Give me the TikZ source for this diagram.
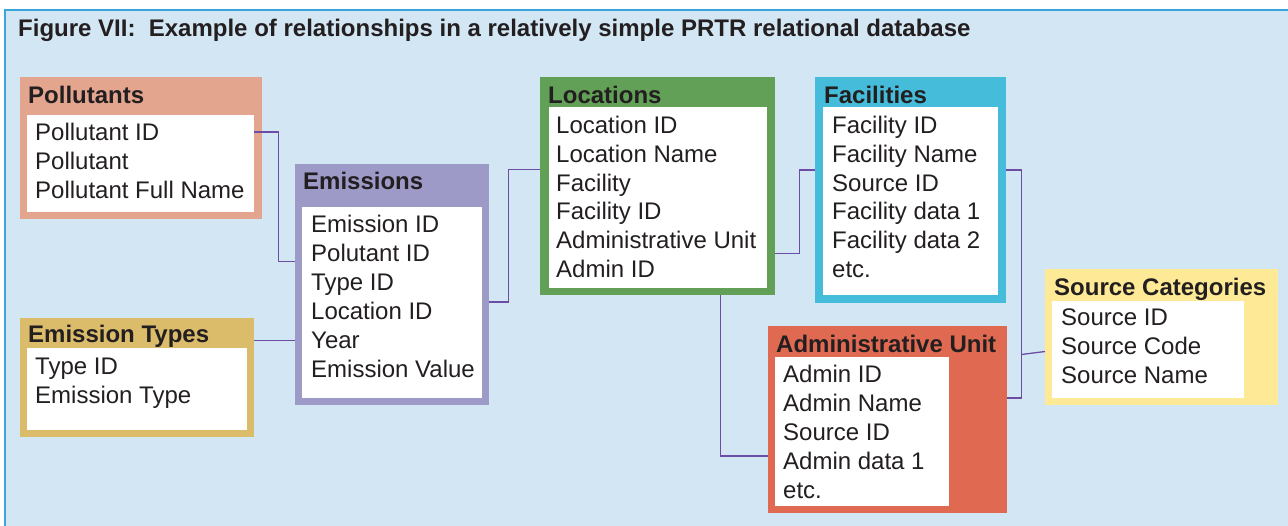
\documentclass[tikz,border=0pt]{standalone}
\usepackage{fontspec}
\setmainfont{Liberation Sans}
\usetikzlibrary{positioning}

\definecolor{panel}{HTML}{D3E6F4}
\definecolor{frame}{HTML}{3AA5DA}
\definecolor{ink}{HTML}{231F20}
\definecolor{linkc}{HTML}{6D4CA6}
\definecolor{pollc}{HTML}{E3A58E}
\definecolor{emisc}{HTML}{9E9AC8}
\definecolor{etypc}{HTML}{DABC6B}
\definecolor{locc}{HTML}{62A057}
\definecolor{facc}{HTML}{45BCD9}
\definecolor{srcc}{HTML}{FEEA96}
\definecolor{admc}{HTML}{DF6A51}

\begin{document}
\begin{tikzpicture}[x=1pt, y=-1pt,
        tbl/.style={inner sep=0pt, anchor=north west},
        card/.style={fill=white, inner sep=0pt, anchor=north west},
        head/.style={inner sep=0pt, anchor=base west, text=ink, font=\bfseries\fontsize{24}{29}\selectfont},
        field/.style={inner sep=0pt, anchor=base west, text=ink, font=\fontsize{24}{29}\selectfont},
        link/.style={draw=linkc, line width=1.3pt}]
      \useasboundingbox (0,0) rectangle (1288,526);
      \fill[white] (0,0) rectangle (1288,526);
      \filldraw[fill=panel, draw=frame, line width=1.5pt] (5,10) rectangle (1300,540);
      \node[anchor=base west, inner sep=0pt, text=ink, font=\bfseries\fontsize{24}{28}\selectfont] (title) at (18,37)
        {Figure VII:\ \ Example of relationships in a relatively simple PRTR relational database};

      % Pollutants
      \node[tbl, fill=pollc, minimum width=242pt, minimum height=142pt] (poll) at (20,77) {};
      \node[card, minimum width=227pt, minimum height=97pt] (pollw) at (27,115) {};
      \node[head] (pollh) at (28,103.5) {Pollutants};
      \foreach \f [count=\i] in {Pollutant ID, Pollutant, Pollutant Full Name}
        \node[field] (poll-\i) at (35,{140.5+29*(\i-1)}) {\f};

      % Emission Types
      \node[tbl, fill=etypc, minimum width=234pt, minimum height=119pt] (etyp) at (20,318) {};
      \node[card, minimum width=220pt, minimum height=82pt] (etypw) at (27,348) {};
      \node[head] (etyph) at (28,342.5) {Emission Types};
      \foreach \f [count=\i] in {Type ID, Emission Type}
        \node[field] (etyp-\i) at (35,{374.5+29*(\i-1)}) {\f};

      % Emissions
      \node[tbl, fill=emisc, minimum width=194pt, minimum height=241pt] (emis) at (295,164) {};
      \node[card, minimum width=180pt, minimum height=191pt] (emisw) at (302,207) {};
      \node[head] (emish) at (303,189.5) {Emissions};
      \foreach \f [count=\i] in {Emission ID, Polutant ID, Type ID, Location ID, Year, Emission Value}
        \node[field] (emis-\i) at (311,{232.5+29*(\i-1)}) {\f};

      % Locations
      \node[tbl, fill=locc, minimum width=235pt, minimum height=218pt] (loc) at (540,77) {};
      \node[card, minimum width=218pt, minimum height=181pt] (locw) at (549,107) {};
      \node[head] (loch) at (548,103.5) {Locations};
      \foreach \f [count=\i] in {Location ID, Location Name, Facility, Facility ID, Administrative Unit, Admin ID}
        \node[field] (loc-\i) at (556,{133.5+28.8*(\i-1)}) {\f};

      % Facilities
      \node[tbl, fill=facc, minimum width=191pt, minimum height=226pt] (fac) at (815,77) {};
      \node[card, minimum width=175pt, minimum height=188pt] (facw) at (823,107) {};
      \node[head] (fach) at (824,103.5) {Facilities};
      \foreach \f [count=\i] in {Facility ID, Facility Name, Source ID, Facility data 1, Facility data 2, etc.}
        \node[field] (fac-\i) at (832,{133.5+28.8*(\i-1)}) {\f};

      % Source Categories
      \node[tbl, fill=srcc, minimum width=233pt, minimum height=136pt] (src) at (1045,269) {};
      \node[card, minimum width=192pt, minimum height=97pt] (srcw) at (1052,301) {};
      \node[head] (srch) at (1054,295.5) {Source Categories};
      \foreach \f [count=\i] in {Source ID, Source Code, Source Name}
        \node[field] (src-\i) at (1061,{325.5+29*(\i-1)}) {\f};

      % Administrative Unit
      \node[tbl, fill=admc, minimum width=239pt, minimum height=187pt] (adm) at (768,326) {};
      \node[card, minimum width=174pt, minimum height=149pt] (admw) at (775,357) {};
      \node[head] (admh) at (776,352.5) {Administrative Unit};
      \foreach \f [count=\i] in {Admin ID, Admin Name, Source ID, Admin data 1, etc.}
        \node[field] (adm-\i) at (783,{382.5+29*(\i-1)}) {\f};

      % relations
      \draw[link] (pollw.east |- poll-1) -- ++(24,0) |- (emis.west |- emis-2.base);
      \draw[link] (etyp.east |- emis-5) -- (emis.west |- emis-5);
      \draw[link] (emis.east |- emis-4.north) -- ++(19,0) |- ([yshift=4pt]loc.west |- loc-3.north);
      \draw[link] ([yshift=-5pt]loc.east |- loc-5.base) -- ++(24,0) |- ([yshift=4pt]fac.west |- fac-3.north);
      \draw[link] ([xshift=62.5pt]loc.south) |- ([yshift=5pt]adm.west |- adm-4);
      \draw[link] ([yshift=4pt]fac.east |- fac-3.north) -- ++(15,0) coordinate (bus) |- ([yshift=5pt]adm.east |- adm-2);
      \draw[link] (bus |- src-2.base) -- ([yshift=3pt]src.west |- src-2.base);
\end{tikzpicture}
\end{document}
